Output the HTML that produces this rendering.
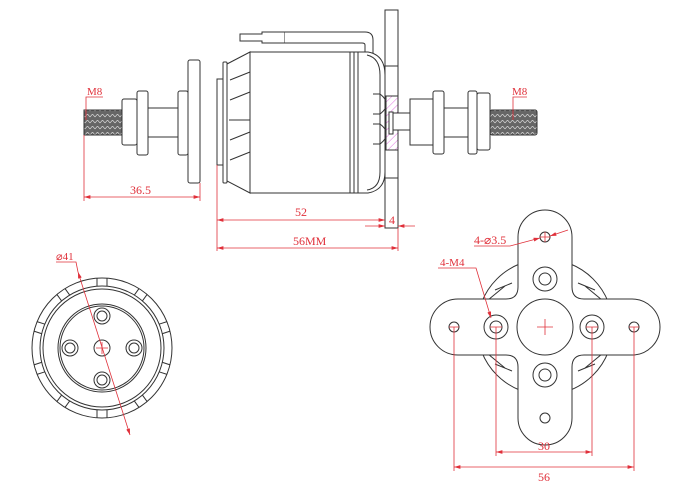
<!DOCTYPE html>
<html><head><meta charset="utf-8"><style>
html,body{margin:0;padding:0;background:#fff}
svg{display:block}
text{font-family:"Liberation Serif",serif;fill:#e0303a}
</style></head><body>
<svg width="680" height="504" viewBox="0 0 680 504" xmlns="http://www.w3.org/2000/svg">
<defs>
<pattern id="hatch" width="5" height="5" patternUnits="userSpaceOnUse" patternTransform="rotate(45)">
<line x1="0" y1="0" x2="0" y2="5" stroke="#e070e0" stroke-width="1"/></pattern>
<pattern id="thr" width="5" height="6" patternUnits="userSpaceOnUse">
<rect width="5" height="6" fill="#666"/><path d="M0 3 L2.5 0 L5 3" stroke="#ddd" stroke-width="0.6" fill="none"/></pattern>
<marker id="ar" viewBox="0 0 10 6" refX="10" refY="3" markerWidth="8" markerHeight="5" orient="auto-start-reverse"><path d="M0 0 L10 3 L0 6z" fill="#e0303a"/></marker>
</defs>
<g fill="#fff" stroke="#333" stroke-width="1">
<rect x="84" y="110" width="38" height="25" fill="url(#thr)"/>
<rect x="122" y="99" width="15" height="46" rx="2"/>
<rect x="137" y="91" width="11" height="64" rx="2"/>
<rect x="148" y="108" width="30" height="29"/>
<rect x="178" y="91" width="10" height="64" rx="2"/>
<rect x="188" y="60" width="12" height="123" rx="2"/>
<path d="M240 34 L262 34 L262 32 L285 32 L285 43 L262 43 L262 41 L240 41 Z"/>
<path d="M285 32 L365 32 Q373 32 373 40 L373 54 L365 54 L365 45 Q365 43 362 43 L285 43"/>
<rect x="217" y="79" width="6" height="86"/>
<rect x="223" y="62" width="4" height="121" rx="1"/>
<path d="M227 64 L250 52 L250 193 L227 181 Z"/>
<path d="M230 80 L250 72 M230 100 L250 92 M230 140 L250 132 M230 160 L250 152 M229 120 L250 120" fill="none"/>
<rect x="250" y="52" width="100" height="141"/>
<rect x="350" y="52" width="8" height="141"/>
<line x1="354" y1="52" x2="354" y2="193"/>
<path d="M358 52 L368 52 Q385 55 385 75 L385 172 Q385 190 368 193 L358 193 Z"/>
<path d="M367 55 Q380 58 380 75 L380 172 Q380 188 367 190" fill="none"/>
<path d="M373 94 L380 94 Q393 104 380 114 L373 114 M373 124 L380 124 Q393 134 380 144 L373 144" fill="none"/>
<rect x="385" y="10" width="13" height="218"/>
<line x1="385" y1="66" x2="398" y2="66"/><line x1="385" y1="178" x2="398" y2="178"/>
<rect x="386" y="96" width="12" height="54" fill="url(#hatch)"/>
<rect x="389" y="112" width="4" height="22"/>
<rect x="393" y="113" width="17" height="17"/>
<rect x="410" y="99" width="23" height="46"/>
<rect x="433" y="91" width="11" height="63" rx="2"/>
<rect x="444" y="108" width="24" height="29"/>
<rect x="468" y="91" width="9" height="63" rx="2"/>
<rect x="477" y="93" width="13" height="57" rx="2"/>
<rect x="490" y="110" width="47" height="25" rx="2" fill="url(#thr)"/>
</g>
<g stroke="#e0303a" stroke-width="0.8" fill="none">
<line x1="84" y1="135" x2="84" y2="201"/><line x1="200" y1="183" x2="200" y2="201"/>
<line x1="84" y1="197" x2="200" y2="197" marker-start="url(#ar)" marker-end="url(#ar)"/>
<line x1="217" y1="165" x2="217" y2="251"/><line x1="398" y1="228" x2="398" y2="251"/>
<line x1="217" y1="220" x2="385" y2="220" marker-start="url(#ar)" marker-end="url(#ar)"/>
<line x1="365" y1="226" x2="385" y2="226" marker-end="url(#ar)"/><line x1="398" y1="226" x2="415" y2="226" marker-start="url(#ar)"/>
<line x1="217" y1="248" x2="398" y2="248" marker-start="url(#ar)" marker-end="url(#ar)"/>
<polyline points="86,120 86,97 103,97"/><polyline points="513,120 513,97 527,97"/>
</g>
<g font-size="12">
<text x="87" y="95" font-size="11">M8</text>
<text x="512" y="95" font-size="11">M8</text>
<text x="130" y="194">36.5</text>
<text x="295" y="216">52</text>
<text x="389" y="224">4</text>
<text x="293" y="245">56MM</text>
</g>
<g fill="none" stroke="#333" stroke-width="1">
<circle cx="102" cy="348" r="70"/><circle cx="102" cy="348" r="62"/><circle cx="102" cy="348" r="59"/>
<circle cx="102" cy="348" r="44"/><circle cx="102" cy="348" r="42"/>
<circle cx="102" cy="348" r="8"/>
<g id="bh"><circle cx="102" cy="316" r="8"/><circle cx="102" cy="316" r="5"/></g>
<use href="#bh" transform="rotate(90 102 348)"/><use href="#bh" transform="rotate(180 102 348)"/><use href="#bh" transform="rotate(270 102 348)"/>
<g id="nt"><path d="M97 278 L97 286 M107 278 L107 286"/></g>
<use href="#nt" transform="rotate(36 102 348)"/><use href="#nt" transform="rotate(72 102 348)"/><use href="#nt" transform="rotate(108 102 348)"/><use href="#nt" transform="rotate(144 102 348)"/><use href="#nt" transform="rotate(-36 102 348)"/><use href="#nt" transform="rotate(-72 102 348)"/><use href="#nt" transform="rotate(-108 102 348)"/><use href="#nt" transform="rotate(-144 102 348)"/><use href="#nt" transform="rotate(180 102 348)"/>
</g>
<g stroke="#e0303a" stroke-width="0.8" fill="none">
<line x1="78" y1="272" x2="130" y2="435" marker-start="url(#ar)" marker-end="url(#ar)"/>
<polyline points="56,262 76,262 78,272"/>
<path d="M96 348 H108 M102 342 V354"/>
</g>
<text x="56" y="260" font-size="11">⌀41</text>
<g fill="none" stroke="#333" stroke-width="1">
<circle cx="545" cy="327" r="68"/>
<path d="M488 300 L505 286 M484 312 L500 306 M495 290 L512 283 M602 300 L585 286 M606 312 L590 306 M595 290 L578 283 M488 354 L505 368 M484 342 L500 348 M495 364 L512 371 M602 354 L585 368 M606 342 L590 348 M595 364 L578 371"/>
<path fill="#fff" d="M518 287 L518 237 A27 27 0 0 1 572 237 L572 287 Q572 299 584 299 L632 299 A28 28 0 0 1 632 355 L584 355 Q572 355 572 367 L572 418 A27 27 0 0 1 518 418 L518 367 Q518 355 506 355 L458 355 A28 28 0 0 1 458 299 L506 299 Q518 299 518 287 Z"/>
<circle cx="545" cy="327" r="28"/>
<circle cx="496" cy="327" r="12"/><circle cx="496" cy="327" r="6"/>
<circle cx="592" cy="327" r="12"/><circle cx="592" cy="327" r="6"/>
<circle cx="545" cy="279" r="12"/><circle cx="545" cy="279" r="6"/>
<circle cx="545" cy="375" r="12"/><circle cx="545" cy="375" r="6"/>
<circle cx="454" cy="327" r="5"/><circle cx="634" cy="327" r="5"/>
<circle cx="545" cy="237" r="5"/><circle cx="545" cy="418" r="5"/>
</g>
<g stroke="#e0303a" stroke-width="0.8" fill="none">
<path d="M537 327 H553 M545 319 V335 M449 327 H459 M629 327 H639 M490 327 H502 M586 327 H598 M540 237 H550 M545 232 V242"/>
<line x1="454" y1="327" x2="454" y2="471"/><line x1="634" y1="327" x2="634" y2="471"/>
<line x1="496" y1="327" x2="496" y2="456"/><line x1="592" y1="327" x2="592" y2="456"/>
<line x1="496" y1="452" x2="592" y2="452" marker-start="url(#ar)" marker-end="url(#ar)"/>
<line x1="454" y1="467" x2="634" y2="467" marker-start="url(#ar)" marker-end="url(#ar)"/>
<polyline points="474,246 510,246 540,238" marker-end="url(#ar)"/>
<line x1="568" y1="230" x2="550" y2="236" marker-end="url(#ar)"/>
<polyline points="438,268 476,268 491,318" marker-end="url(#ar)"/>
</g>
<g font-size="12">
<text x="474" y="244">4-⌀3.5</text>
<text x="440" y="266" font-size="11">4-M4</text>
<text x="538" y="450">30</text>
<text x="538" y="481">56</text>
</g>
</svg>
</body></html>
